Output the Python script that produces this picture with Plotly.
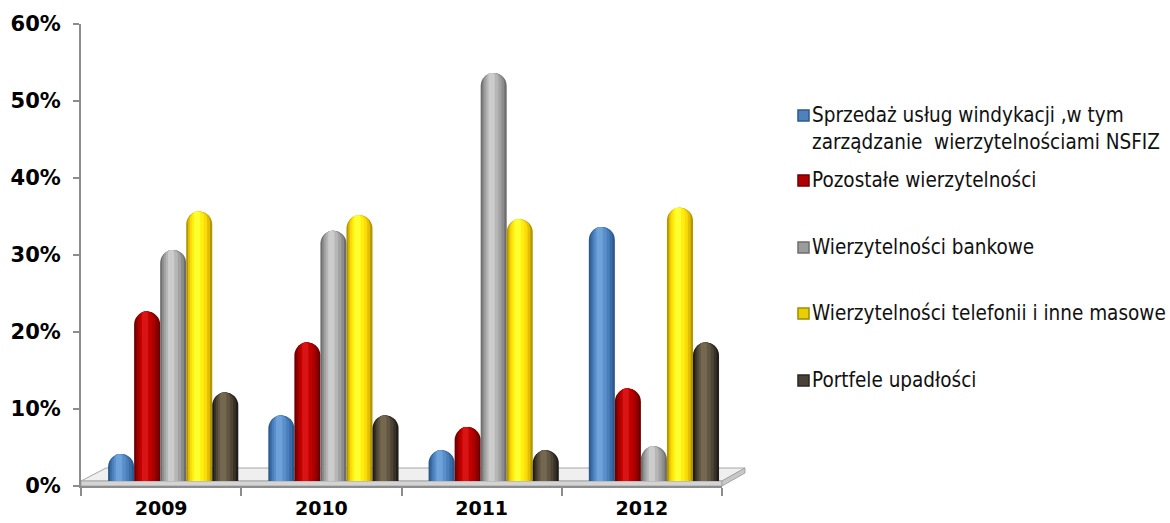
import plotly.graph_objects as go

# ---- data -------------------------------------------------------------
years = ["2009", "2010", "2011", "2012"]

series_names = [
    "Sprzedaż usług windykacji ,w tym<br>zarządzanie \u00a0wierzytelnościami NSFIZ",
    "Pozostałe wierzytelności",
    "Wierzytelności bankowe",
    "Wierzytelności telefonii i inne masowe",
    "Portfele upadłości",
]

windykacja = [3.5, 8.5, 4.0, 33.0]
pozostale = [22.0, 18.0, 7.0, 12.0]
bankowe = [30.0, 32.5, 53.0, 4.5]
telefonia = [35.0, 34.5, 34.0, 35.5]
upadlosci = [11.5, 8.5, 4.0, 18.0]

series_values = [windykacja, pozostale, bankowe, telefonia, upadlosci]

y_ticks = [0, 10, 20, 30, 40, 50, 60]

# ---- styling ----------------------------------------------------------
# shades per series, from the dark rim of the cylinder to its highlight
shades = [
    ["#2C5A8E", "#3A6DA8", "#4A7FBC", "#5A8FCB", "#6EA2DA"],
    ["#6E0000", "#8E0000", "#AC0000", "#C20000", "#D81414"],
    ["#6E6E6E", "#8C8C8C", "#A2A2A2", "#B6B6B6", "#CCCCCC"],
    ["#B59600", "#E2C000", "#FBDC0A", "#FFEE10", "#FFFF30"],
    ["#1F1D1A", "#373127", "#4E4535", "#615642", "#756850"],
]
legend_fill = ["#4F81BD", "#B00000", "#9C9C9C", "#E8D000", "#4A4236"]
legend_edge = ["#2C5A8E", "#6E0000", "#6E6E6E", "#A08A00", "#2A2620"]

layer_width = [1.0, 0.84, 0.66, 0.46, 0.24]
layer_center = [0.5, 0.49, 0.47, 0.45, 0.42]

BAR_W = 0.1625          # width of one cylinder, in category units
GROUP_START = -0.331    # left edge of the first cylinder relative to category centre

W_PX, H_PX = 1170, 523
L, R, T, B = 81, 448, 24, 37
plot_w = W_PX - L - R
plot_h = H_PX - T - B

fig = go.Figure()

# empty trace so the x/y subplot (the visible percentage axis) is created
fig.add_trace(go.Scatter(x=years, y=[None] * len(years), mode="none",
                         xaxis="x", yaxis="y", showlegend=False, hoverinfo="skip"))

for i, (vals, pal) in enumerate(zip(series_values, shades)):
    left = GROUP_START + i * BAR_W
    for f, c, col in zip(layer_width, layer_center, pal):
        fig.add_trace(go.Bar(
            x=years, y=vals,
            xaxis="x", yaxis="y2",
            width=f * BAR_W,
            offset=left + (c - f / 2) * BAR_W,
            marker=dict(color=col, line=dict(width=0), cornerradius="50%"),
            showlegend=False,
            hoverinfo="skip",
        ))


def px_to_paper(x, y):
    return (x - L) / plot_w, (H_PX - B - y) / plot_h


def path(points):
    pts = [px_to_paper(x, y) for x, y in points]
    return "M " + " L ".join(f"{x:.5f},{y:.5f}" for x, y in pts) + " Z"


# 3-D floor slab under the cylinders
floor_top = [(81, 481), (722, 481), (745, 468), (106, 468)]
floor_front = [(81, 481), (722, 481), (722, 486), (81, 486)]
floor_side = [(722, 481), (745, 468), (745, 473), (722, 486)]
for pts, fill in [(floor_top, "#EFEFEF"), (floor_front, "#D4D4D4"), (floor_side, "#C8C8C8")]:
    fig.add_shape(type="path", path=path(pts), xref="paper", yref="paper",
                  fillcolor=fill, line=dict(color="#A6A6A6", width=1), layer="below")

# legend drawn beside the plot
symbol_y = [115, 180, 247, 313, 380]
text_y = [128, 180, 247, 313, 380]
legend_font = dict(family="DejaVu Sans Condensed, DejaVu Sans", size=20.5, color="#111111")
for name, fill, edge, sy, ty in zip(series_names, legend_fill, legend_edge, symbol_y, text_y):
    x0, y0 = px_to_paper(798, sy - 5)
    x1, y1 = px_to_paper(809, sy + 6)
    fig.add_shape(type="rect", xref="paper", yref="paper", x0=x0, x1=x1, y0=y0, y1=y1,
                  fillcolor=fill, line=dict(color=edge, width=1.5))
    ax, ay = px_to_paper(810, ty)
    fig.add_annotation(x=ax, y=ay, xref="paper", yref="paper", text=name,
                       showarrow=False, xanchor="left", yanchor="middle", align="left",
                       font=legend_font)

axis_col = "#8C8C8C"
fig.update_layout(
    width=W_PX, height=H_PX,
    margin=dict(l=L, r=R, t=T, b=B, autoexpand=False),
    paper_bgcolor="white", plot_bgcolor="white",
    barmode="overlay",
    showlegend=False,
    xaxis=dict(
        type="category", range=[-0.5, 3.5], automargin=False,
        showline=True, linecolor=axis_col, linewidth=2,
        ticks="outside", tickson="boundaries", ticklen=8, tickcolor=axis_col, tickwidth=2,
        showgrid=False, zeroline=False,
        tickfont=dict(family="DejaVu Sans", size=19, color="black", weight="bold"),
        ticklabelstandoff=4,
    ),
    yaxis=dict(
        range=[0, 60], tickvals=y_ticks, ticktext=[f"{v}%" for v in y_ticks],
        automargin=False,
        showline=True, linecolor=axis_col, linewidth=2,
        ticks="outside", ticklen=6, tickcolor=axis_col, tickwidth=2,
        showgrid=False, zeroline=False,
        tickfont=dict(family="DejaVu Sans", size=21, color="black", weight="bold"),
        ticklabelstandoff=8,
    ),
    yaxis2=dict(
        overlaying="y", range=[-0.65, 59.35], visible=False,
    ),
)

fig.write_html("out.html")
